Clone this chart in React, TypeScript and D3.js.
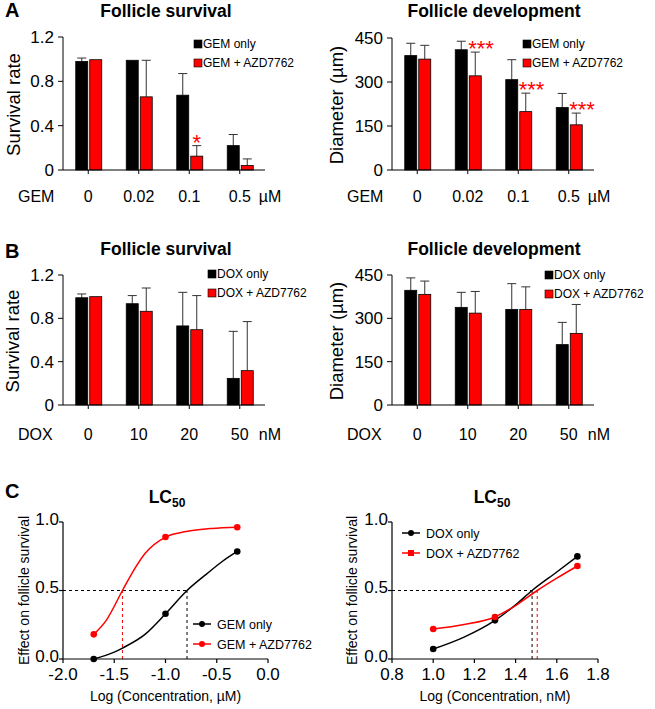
import React from "react";
import * as d3 from "d3";

const FONT = "'Liberation Sans', Arial, Helvetica, sans-serif";
const RED = "#ff0000";

// ---------- Panel A: gemcitabine ----------
const gemDoses = ["0", "0.02", "0.1", "0.5"];
const gemSurvivalOnly = [0.98, 0.99, 0.675, 0.22];
const gemSurvivalOnlySD = [0.03, 0, 0.195, 0.1];
const gemSurvivalAzd = [0.995, 0.66, 0.125, 0.04];
const gemSurvivalAzdSD = [0, 0.33, 0.095, 0.06];
const gemSurvivalStars = ["", "", "*", ""];
const gemDiameterOnly = [390, 410, 308, 213];
const gemDiameterOnlySD = [42, 29, 68, 48];
const gemDiameterAzd = [378, 321, 199, 154];
const gemDiameterAzdSD = [47, 81, 63, 40];
const gemDiameterStars = ["", "***", "***", "***"];

// ---------- Panel B: doxorubicin ----------
const doxDoses = ["0", "10", "20", "50"];
const doxSurvivalOnly = [0.99, 0.935, 0.73, 0.246];
const doxSurvivalOnlySD = [0.035, 0.075, 0.31, 0.434];
const doxSurvivalAzd = [1.0, 0.865, 0.695, 0.317];
const doxSurvivalAzdSD = [0, 0.215, 0.315, 0.453];
const doxDiameterOnly = [397, 338, 331, 209];
const doxDiameterOnlySD = [43, 52, 89, 77];
const doxDiameterAzd = [383, 318, 331, 248];
const doxDiameterAzdSD = [46, 75, 78, 100];
const noStars = ["", "", "", ""];

const survivalTicks = [0, 0.4, 0.8, 1.2];
const diameterTicks = [0, 150, 300, 450];

// ---------- Panel C: LC50 ----------
const gemLogConc = [-1.7, -1.0, -0.3];
const gemEffectOnly = [0.0, 0.33, 0.785];
const gemEffectAzd = [0.18, 0.89, 0.962];
const gemFitOnly: [number, number][] = [
  [-1.7, 0], [-1.5, 0.05], [-1.42, 0.08], [-1.2, 0.18], [-1.0, 0.33],
  [-0.79, 0.5], [-0.6, 0.62], [-0.45, 0.71], [-0.3, 0.785],
];
const gemFitAzd: [number, number][] = [
  [-1.7, 0.18], [-1.58, 0.28], [-1.42, 0.5], [-1.3, 0.66], [-1.2, 0.77],
  [-1.0, 0.89], [-0.8, 0.93], [-0.55, 0.953], [-0.3, 0.962],
];
const gemLC50 = [-0.79, -1.42];
const gemXTicks = [-2, -1.5, -1, -0.5, 0];

const doxLogConc = [1.0, 1.3, 1.7];
const doxEffectOnly = [0.073, 0.282, 0.749];
const doxEffectAzd = [0.219, 0.307, 0.679];
const doxFitOnly: [number, number][] = [
  [1.0, 0.073], [1.15, 0.16], [1.3, 0.282], [1.4, 0.395], [1.48, 0.5], [1.6, 0.635], [1.7, 0.749],
];
const doxFitAzd: [number, number][] = [
  [1.0, 0.219], [1.15, 0.252], [1.3, 0.307], [1.4, 0.39], [1.505, 0.5], [1.6, 0.59], [1.7, 0.679],
];
const doxLC50 = [1.48, 1.505];
const doxXTicks = [0.8, 1.0, 1.2, 1.4, 1.6, 1.8];
const effectTicks = [0, 0.5, 1.0];

type BarProps = {
  left: number; right: number; top: number; bottom: number;
  yMax: number; yTicks: number[]; yFmt: (v: number) => string;
  cats: string[]; s1: number[]; e1: number[]; s2: number[]; e2: number[]; stars: string[];
  title: string; titleX: number; titleY: number;
  yLabel: string; yLabelX: number;
  drug: string; unit: string; xLabelY: number;
  legend: string[]; legX: number; legY: number;
};

function BarPanel(p: BarProps) {
  const x = d3.scaleBand<string>().domain(p.cats).range([p.left, p.right]);
  const y = d3.scaleLinear().domain([0, p.yMax]).range([p.bottom, p.top]);
  const bw = 12;
  const series = [
    { vals: p.s1, sd: p.e1, fill: "#000", dx: -12.5 },
    { vals: p.s2, sd: p.e2, fill: RED, dx: 1.5 },
  ];
  const cx = (c: string) => (x(c) as number) + x.bandwidth() / 2;
  const last = p.cats[p.cats.length - 1];
  return (
    <g>
      <text x={p.titleX} y={p.titleY} textAnchor="middle" fontWeight="bold" fontSize={17.5}>{p.title}</text>
      {series.map((s, si) =>
        p.cats.map((c, i) => {
          const bx = cx(c) + s.dx;
          const top = y(s.vals[i]);
          const et = y(s.vals[i] + s.sd[i]);
          const mid = bx + bw / 2;
          return (
            <g key={`${si}-${i}`}>
              {s.sd[i] > 0 && (
                <g stroke="#333" strokeWidth={1}>
                  <line x1={mid} x2={mid} y1={top} y2={et} />
                  <line x1={mid - 4.5} x2={mid + 4.5} y1={et} y2={et} />
                </g>
              )}
              <rect x={bx} y={top} width={bw} height={p.bottom - top} fill={s.fill} stroke="#000" strokeWidth={0.8} />
            </g>
          );
        })
      )}
      {p.cats.map((c, i) => {
        const st = p.stars[i];
        if (!st) return null;
        const bx = cx(c) + series[1].dx;
        const et = y(p.s2[i] + p.e2[i]);
        return st.length === 1 ? (
          <text key={`st${i}`} x={bx + bw / 2} y={et + 4} textAnchor="middle" fill={RED} fontSize={22}>{st}</text>
        ) : (
          <text key={`st${i}`} x={bx - 1} y={et + 4} textAnchor="start" fill={RED} fontSize={22}>{st}</text>
        );
      })}
      {/* y axis */}
      <line x1={p.left} x2={p.left} y1={p.top} y2={p.bottom} stroke="#000" strokeWidth={1} />
      {p.yTicks.map((t) => (
        <g key={`yt${t}`}>
          <line x1={p.left - 5} x2={p.left} y1={y(t)} y2={y(t)} stroke="#000" />
          <text x={p.left - 9} y={y(t) + 6} textAnchor="end" fontSize={17}>{p.yFmt(t)}</text>
        </g>
      ))}
      <text transform={`translate(${p.yLabelX},${(p.top + p.bottom) / 2 + 1}) rotate(-90)`} textAnchor="middle" fontSize={18.5}>{p.yLabel}</text>
      {/* x axis */}
      <line x1={p.left} x2={p.right} y1={p.bottom} y2={p.bottom} stroke="#000" strokeWidth={1} />
      {p.cats.map((c) => (
        <g key={`xt${c}`}>
          <line x1={cx(c)} x2={cx(c)} y1={p.bottom} y2={p.bottom + 4} stroke="#000" />
          <text x={cx(c)} y={p.xLabelY} textAnchor="middle" fontSize={16}>{c}</text>
        </g>
      ))}
      <text x={cx(last) + 19} y={p.xLabelY} fontSize={16}>{p.unit}</text>
      <text x={p.left - 45} y={p.xLabelY} fontSize={16}>{p.drug}</text>
      {/* legend */}
      {p.legend.map((l, i) => (
        <g key={`lg${i}`}>
          <rect x={p.legX} y={p.legY + i * 19} width={8} height={8} fill={i === 0 ? "#000" : RED} stroke="#000" strokeWidth={0.6} />
          <text x={p.legX + 9} y={p.legY + 8 + i * 19} fontSize={12}>{l}</text>
        </g>
      ))}
    </g>
  );
}

type LCProps = {
  left: number; right: number; top: number; bottom: number;
  xDomain: [number, number]; xTicks: number[];
  conc: number[]; e1: number[]; e2: number[];
  fit1: [number, number][]; fit2: [number, number][];
  lc50: number[];
  titleX: number; titleY: number; yLabelX: number; xLabel: string;
  legend: string[]; legX: number; legY: number; squareSecond: boolean;
};

function LCPanel(p: LCProps) {
  const x = d3.scaleLinear().domain(p.xDomain).range([p.left, p.right]);
  const y = d3.scaleLinear().domain([0, 1]).range([p.bottom, p.top]);
  const line = d3
    .line<[number, number]>()
    .x((d) => x(d[0]))
    .y((d) => y(d[1]))
    .curve(d3.curveMonotoneX);
  const hEnd = Math.max(...p.lc50);
  const cols = ["#000", RED];
  return (
    <g>
      <text x={p.titleX} y={p.titleY} textAnchor="middle" fontWeight="bold" fontSize={17.5}>
        <tspan>LC</tspan>
        <tspan fontSize={12} dy={4}>50</tspan>
      </text>
      {/* dashed guides */}
      <line x1={x(p.xDomain[0])} x2={x(hEnd)} y1={y(0.5)} y2={y(0.5)} stroke="#000" strokeDasharray="3,3" strokeWidth={1} />
      {p.lc50.map((v, i) => (
        <line key={`lc${i}`} x1={x(v)} x2={x(v)} y1={y(0)} y2={y(0.5)} stroke={cols[i]} strokeDasharray="3,3" strokeWidth={1} />
      ))}
      {[p.fit1, p.fit2].map((f, i) => (
        <path key={`f${i}`} d={line(f) || ""} fill="none" stroke={cols[i]} strokeWidth={1.5} />
      ))}
      {[p.e1, p.e2].map((e, si) =>
        p.conc.map((c, i) => <circle key={`p${si}-${i}`} cx={x(c)} cy={y(e[i])} r={3.3} fill={cols[si]} />)
      )}
      {/* axes */}
      <line x1={p.left} x2={p.left} y1={p.top} y2={p.bottom} stroke="#000" strokeWidth={1.2} />
      <line x1={p.left} x2={p.right} y1={p.bottom} y2={p.bottom} stroke="#000" strokeWidth={1.2} />
      {effectTicks.map((t) => (
        <g key={`yt${t}`}>
          <line x1={p.left - 4} x2={p.left} y1={y(t)} y2={y(t)} stroke="#000" strokeWidth={1.2} />
          <text x={p.left - 4} y={y(t) + 2.5} textAnchor="end" fontSize={17}>{t.toFixed(1)}</text>
        </g>
      ))}
      {p.xTicks.map((t) => (
        <g key={`xt${t}`}>
          <line x1={x(t)} x2={x(t)} y1={p.bottom} y2={p.bottom + 4} stroke="#000" strokeWidth={1.2} />
          <text x={x(t)} y={p.bottom + 21} textAnchor="middle" fontSize={17}>{t.toFixed(1)}</text>
        </g>
      ))}
      <text transform={`translate(${p.yLabelX},${(p.top + p.bottom) / 2}) rotate(-90)`} textAnchor="middle" fontSize={14}>
        Effect on follicle survival
      </text>
      <text x={(p.left + p.right) / 2} y={p.bottom + 42} textAnchor="middle" fontSize={14}>{p.xLabel}</text>
      {/* legend */}
      {p.legend.map((l, i) => {
        const ly = p.legY + i * 20;
        const mx = p.legX + 9;
        return (
          <g key={`lg${i}`}>
            <line x1={p.legX} x2={p.legX + 18} y1={ly} y2={ly} stroke={cols[i]} strokeWidth={1.5} />
            {i === 1 && p.squareSecond ? (
              <rect x={mx - 3} y={ly - 3} width={6} height={6} fill={cols[i]} />
            ) : (
              <circle cx={mx} cy={ly} r={3} fill={cols[i]} />
            )}
            <text x={p.legX + 24} y={ly + 4.5} fontSize={12.5}>{l}</text>
          </g>
        );
      })}
    </g>
  );
}

const fmtSurv = (v: number) => (v === 0 ? "0" : v.toFixed(1));
const fmtDiam = (v: number) => String(v);

export default function App() {
  return (
    <div style={{ position: "absolute", left: 0, top: 0 }}>
      <svg width={655} height={709} style={{ display: "block", background: "#fff" }} fontFamily={FONT}>
        <rect width={655} height={709} fill="#fff" />
        <text x={5} y={17} fontWeight="bold" fontSize={20}>A</text>
        <text x={5} y={258} fontWeight="bold" fontSize={20}>B</text>
        <text x={5} y={498} fontWeight="bold" fontSize={20}>C</text>

        <BarPanel
          left={63} right={265} top={37} bottom={170}
          yMax={1.2} yTicks={survivalTicks} yFmt={fmtSurv}
          cats={gemDoses} s1={gemSurvivalOnly} e1={gemSurvivalOnlySD} s2={gemSurvivalAzd} e2={gemSurvivalAzdSD}
          stars={gemSurvivalStars}
          title="Follicle survival" titleX={166} titleY={17}
          yLabel="Survival rate" yLabelX={20}
          drug="GEM" unit="µM" xLabelY={202}
          legend={["GEM only", "GEM + AZD7762"]} legX={194} legY={40}
        />
        <BarPanel
          left={392} right={594} top={38} bottom={170}
          yMax={450} yTicks={diameterTicks} yFmt={fmtDiam}
          cats={gemDoses} s1={gemDiameterOnly} e1={gemDiameterOnlySD} s2={gemDiameterAzd} e2={gemDiameterAzdSD}
          stars={gemDiameterStars}
          title="Follicle development" titleX={494} titleY={17}
          yLabel="Diameter (µm)" yLabelX={343}
          drug="GEM" unit="µM" xLabelY={202}
          legend={["GEM only", "GEM + AZD7762"]} legX={523} legY={40}
        />
        <BarPanel
          left={63} right={265} top={275} bottom={405}
          yMax={1.2} yTicks={survivalTicks} yFmt={fmtSurv}
          cats={doxDoses} s1={doxSurvivalOnly} e1={doxSurvivalOnlySD} s2={doxSurvivalAzd} e2={doxSurvivalAzdSD}
          stars={noStars}
          title="Follicle survival" titleX={166} titleY={255}
          yLabel="Survival rate" yLabelX={19}
          drug="DOX" unit="nM" xLabelY={440}
          legend={["DOX only", "DOX + AZD7762"]} legX={208} legY={270}
        />
        <BarPanel
          left={392} right={594} top={275} bottom={405}
          yMax={450} yTicks={diameterTicks} yFmt={fmtDiam}
          cats={doxDoses} s1={doxDiameterOnly} e1={doxDiameterOnlySD} s2={doxDiameterAzd} e2={doxDiameterAzdSD}
          stars={noStars}
          title="Follicle development" titleX={494} titleY={255}
          yLabel="Diameter (µm)" yLabelX={343}
          drug="DOX" unit="nM" xLabelY={440}
          legend={["DOX only", "DOX + AZD7762"]} legX={545} legY={271}
        />

        <LCPanel
          left={63} right={268} top={522} bottom={659}
          xDomain={[-2, 0]} xTicks={gemXTicks}
          conc={gemLogConc} e1={gemEffectOnly} e2={gemEffectAzd}
          fit1={gemFitOnly} fit2={gemFitAzd} lc50={gemLC50}
          titleX={167} titleY={503} yLabelX={29} xLabel="Log (Concentration, µM)"
          legend={["GEM only", "GEM + AZD7762"]} legX={193} legY={624} squareSecond={false}
        />
        <LCPanel
          left={392} right={598} top={522} bottom={659}
          xDomain={[0.8, 1.8]} xTicks={doxXTicks}
          conc={doxLogConc} e1={doxEffectOnly} e2={doxEffectAzd}
          fit1={doxFitOnly} fit2={doxFitAzd} lc50={doxLC50}
          titleX={492} titleY={503} yLabelX={357} xLabel="Log (Concentration, nM)"
          legend={["DOX only", "DOX + AZD7762"]} legX={402} legY={533} squareSecond={true}
        />
      </svg>
    </div>
  );
}
